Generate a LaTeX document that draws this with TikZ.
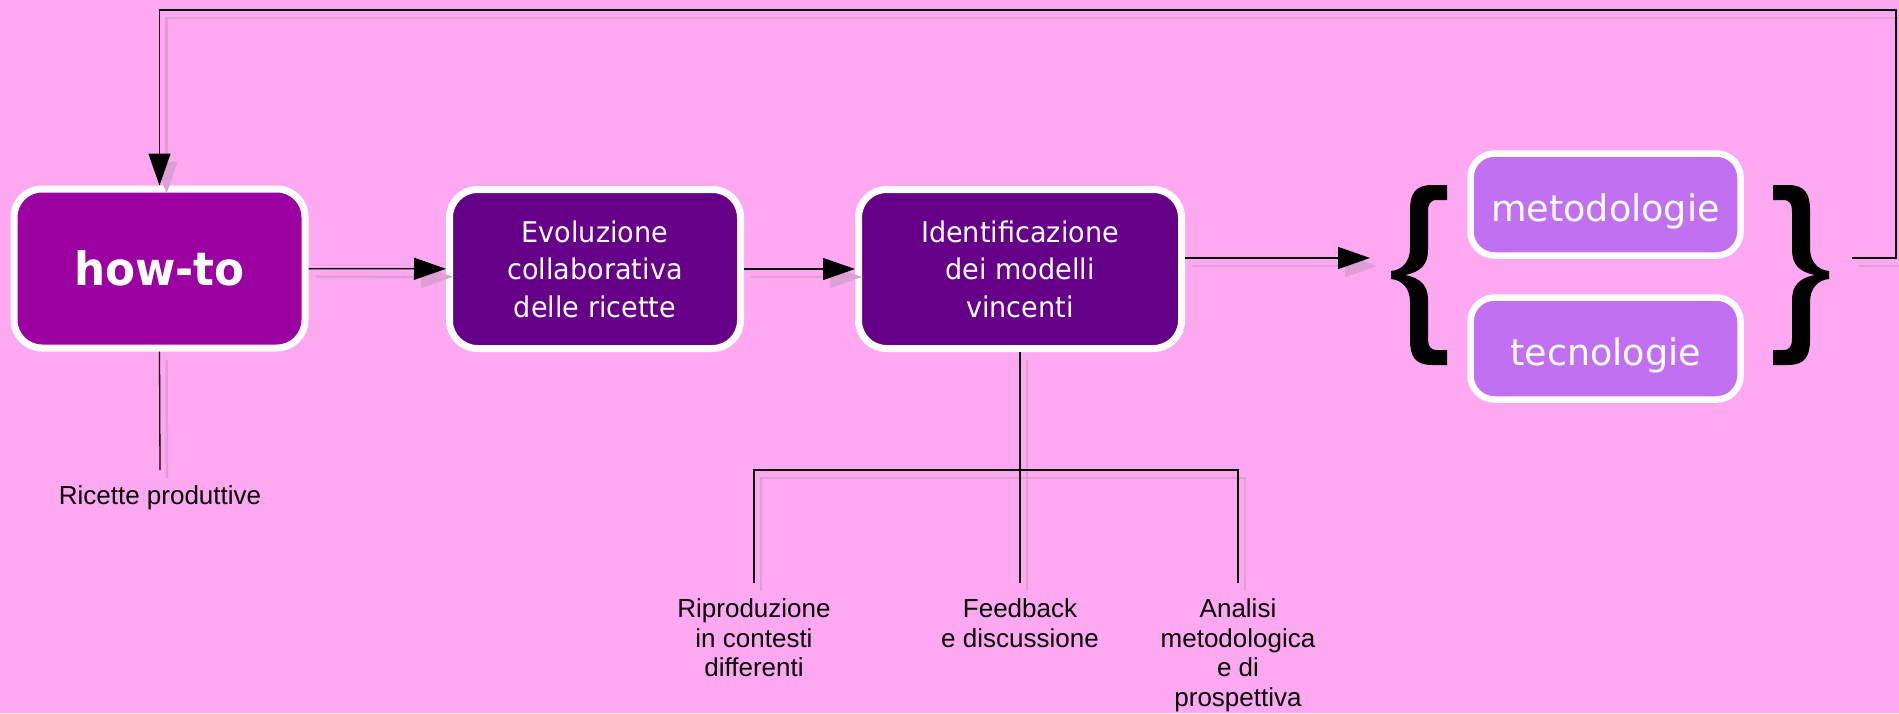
\documentclass[tikz,border=0pt]{standalone}
\usepackage{fontspec}
\setmainfont{Liberation Sans}
\newfontfamily\boxfont[FakeStretch=0.95]{DejaVu Sans}
\newfontfamily\tagfont{DejaVu Sans}
\usetikzlibrary{arrows.meta}
\definecolor{bgpink}{RGB}{255,168,242}
\definecolor{howtopurple}{RGB}{155,0,160}
\definecolor{stepviolet}{RGB}{102,0,136}
\definecolor{taglilac}{RGB}{192,112,240}
\definecolor{shadowpink}{RGB}{222,160,212}
\tikzset{
  bigbox/.style={draw=white, line width=7pt, rounded corners=28pt, minimum width=291pt, minimum height=159pt,
    text=white, align=center, font=\boxfont\fontsize{28.5}{37.5}\selectfont},
  tagbox/.style={draw=white, line width=6.5pt, rounded corners=24pt, fill=taglilac, minimum width=270pt,
    minimum height=102pt, text=white, text height=34pt, text depth=0pt, font=\tagfont\fontsize{36.5}{44}\selectfont},
  lbl/.style={align=center, inner sep=0pt, outer ysep=16pt, font=\fontsize{26}{29.5}\selectfont},
  conn/.style={draw=black, line width=1.3pt,
    preaction={draw=shadowpink, line width=2.5pt, transform canvas={shift={(7pt,-8pt)}}}},
  arr/.style={conn, -{Triangle[length=32pt,width=22pt]}}
}
\begin{document}
\begin{tikzpicture}[x=1pt, y=-1pt]
\fill[bgpink] (0,0) rectangle (1899,713);
\useasboundingbox (0,0) rectangle (1899,713);
\node[bigbox, fill=howtopurple, font=\boxfont\bfseries\fontsize{46}{56}\selectfont] (howto) at (159.5,268.5) {how-to};
\node[bigbox, fill=stepviolet] (evol) at (595,269) {Evoluzione\\collaborativa\\delle ricette};
\node[bigbox, fill=stepviolet, minimum width=323pt] (ident) at (1020,269) {Identificazione\\dei modelli\\vincenti};
\node[tagbox] (metod) at (1605.5,204.5) {metodologie};
\node[tagbox] (tecno) at (1605.5,348.5) {tecnologie};
\foreach \bx/\bs in {1391/1,1829/-1}
  \fill[black, shift={(\bx,275)}, xscale=\bs] (56,-90) -- (56,-75) -- (46,-75)
    .. controls (39,-75) and (37,-71) .. (37,-63) -- (37,-25)
    .. controls (37,-11) and (30,-3) .. (14,0)
    .. controls (30,3) and (37,11) .. (37,25) -- (37,63)
    .. controls (37,71) and (39,75) .. (46,75) -- (56,75) -- (56,90) -- (41,90)
    .. controls (24,90) and (19,81) .. (19,65) -- (19,27)
    .. controls (19,13) and (11,5) .. (0,4) -- (0,-4)
    .. controls (11,-5) and (19,-13) .. (19,-27) -- (19,-65)
    .. controls (19,-81) and (24,-90) .. (41,-90) -- cycle;
\coordinate (bracein) at (1370,258);
\coordinate (braceout) at (1852,258);
\coordinate (loopcorner) at (1896,10);
\coordinate (split) at (1020,470);
\node[lbl, anchor=north] (ricette) at (160,470) {Ricette produttive};
\node[lbl, anchor=north] (ripro) at (754,583) {Riproduzione\\in contesti\\differenti};
\node[lbl, anchor=north] (feed) at (1020,583) {Feedback\\e discussione};
\node[lbl, anchor=north] (anal) at (1238,583) {Analisi\\metodologica\\e di\\prospettiva};
\draw[arr] (howto) -- (evol);
\draw[arr] (evol) -- (ident);
\draw[arr] (ident.east |- bracein) -- (bracein);
\draw[arr] (braceout) -| (loopcorner) -| (howto.north);
\draw[conn] (howto.south) -- (ricette.north);
\draw[conn] (ident.south) -- (split);
\draw[conn] (split) -| (ripro.north);
\draw[conn] (split) -| (anal.north);
\draw[conn] (split) -- (feed.north);
\end{tikzpicture}
\end{document}
